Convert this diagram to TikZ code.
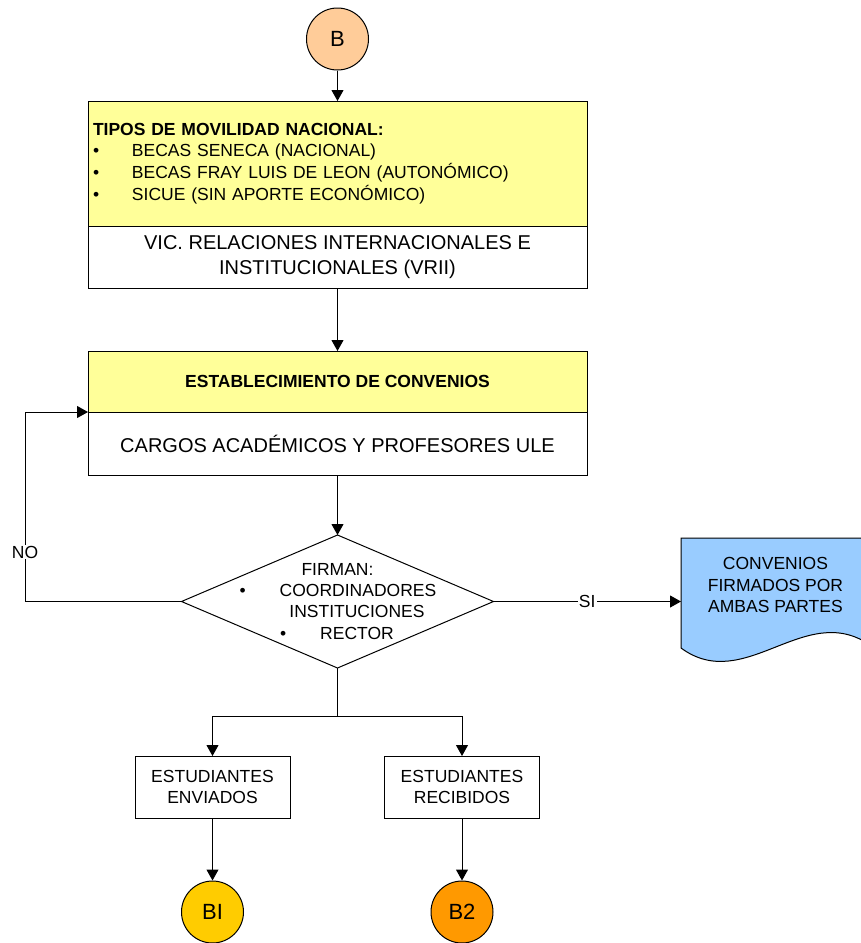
\documentclass[tikz,border=0pt]{standalone}
\usepackage{fontspec}
\setmainfont{Liberation Sans}
\usetikzlibrary{positioning,arrows.meta,shapes.geometric}

\definecolor{melocoton}{RGB}{255,204,153}
\definecolor{amarillo}{RGB}{255,255,153}
\definecolor{celeste}{RGB}{153,204,255}
\definecolor{oro}{RGB}{255,204,0}
\definecolor{naranja}{RGB}{255,153,0}

\newcommand{\chico}{\fontsize{17.5}{21.7}\selectfont}
\newcommand{\grande}{\fontsize{20}{25}\selectfont}
\newcommand{\vineta}{\makebox[39pt][l]{•}}

\tikzset{
  conector/.style={circle,draw,minimum size=62pt,inner sep=0pt,font=\fontsize{22}{26}\selectfont},
  caja/.style={draw,rectangle,inner sep=0pt,outer sep=0pt,align=center},
  flecha/.style={-{Triangle[length=11pt,width=12pt]}},
  rotulo/.style={fill=white,font=\chico,inner sep=1pt}
}

\begin{document}
\begin{tikzpicture}[x=1pt,y=-1pt,line width=1pt]
\useasboundingbox (0,0) rectangle (861,943);
\clip (0,0) rectangle (861,943);
% conector de entrada
\node[conector,fill=melocoton] (b) at (337.5,39) {B};
% tipos de movilidad
\node[caja,fill=amarillo,minimum width=499pt,minimum height=125pt,text width=489pt,align=left,font=\chico,anchor=north west] (tipos) at (88,101)
  {\textbf{TIPOS DE MOVILIDAD NACIONAL:}\\
   \vineta BECAS SENECA (NACIONAL)\\
   \vineta BECAS FRAY LUIS DE LEON (AUTONÓMICO)\\
   \vineta SICUE (SIN APORTE ECONÓMICO)};
\node[caja,fill=white,minimum width=499pt,minimum height=62pt,font=\grande,below=0pt of tipos] (vrii)
  {VIC. RELACIONES INTERNACIONALES E\\INSTITUCIONALES (VRII)};
% convenios
\node[caja,fill=amarillo,minimum width=499pt,minimum height=61pt,font=\chico\bfseries,anchor=north west] (convA) at (88,351) {ESTABLECIMIENTO DE CONVENIOS};
\node[caja,fill=white,minimum width=499pt,minimum height=63pt,font=\grande,below=0pt of convA] (convB) {CARGOS ACADÉMICOS Y PROFESORES ULE};
% decision
\node[draw,diamond,fill=white,minimum width=312pt,minimum height=133pt,inner sep=0pt,outer sep=0pt] (firma) at (337.5,601.5) {};
\node[font=\chico] (firmaT) at (337.5,569) {FIRMAN:};
\node[font=\chico] (coord) at (358,590) {\llap{•\hspace{34pt}}COORDINADORES};
\node[font=\chico] (inst) at (357,611) {INSTITUCIONES};
\node[font=\chico] (rector) at (357,633) {\llap{•\hspace{34pt}}RECTOR};
% documento
\filldraw[fill=celeste] (681,538) -- (870,538) -- (870,645) .. controls (805,600) and (745,695) .. (681,648) -- cycle;
\node[font=\chico,align=center] (doc) at (775.5,585) {CONVENIOS\\FIRMADOS POR\\AMBAS PARTES};
\coordinate (docW) at (681,601.5);
% estudiantes
\coordinate (rama) at (337.5,716);
\node[caja,minimum width=155pt,minimum height=62pt,font=\chico] (envi) at (212.5,787) {ESTUDIANTES\\ENVIADOS};
\node[caja,minimum width=155pt,minimum height=62pt,font=\chico] (reci) at (462,787) {ESTUDIANTES\\RECIBIDOS};
\node[conector,fill=oro] (b1) at (212.5,912) {BI};
\node[conector,fill=naranja] (b2) at (462,912) {B2};
% flechas
\draw[flecha] (b) -- (tipos);
\draw[flecha] (vrii) -- (convA);
\draw[flecha] (convB) -- (firma);
\coordinate (noB) at (25,601.5);
\coordinate (noA) at (25,412);
\draw[flecha] (firma.west) -- (noB) -- node[rotulo,pos=0.26] {NO} (noA) -- (convA.south west);
\draw[flecha] (firma.east) -- node[rotulo] {SI} (docW);
\draw (firma.south) -- (rama);
\draw[flecha] (rama) -| (envi.north);
\draw[flecha] (rama) -| (reci.north);
\draw[flecha] (envi) -- (b1);
\draw[flecha] (reci) -- (b2);
\end{tikzpicture}
\end{document}
